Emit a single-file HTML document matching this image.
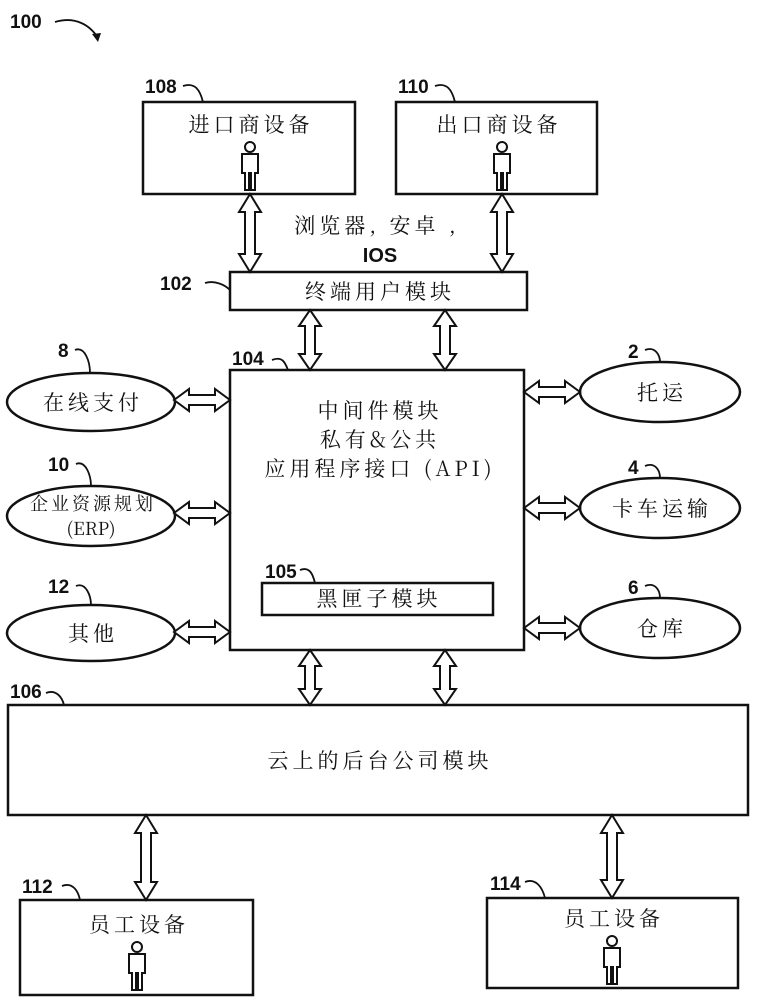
<!DOCTYPE html>
<html><head><meta charset="utf-8"><style>
html,body{margin:0;padding:0;background:#fff}
svg{display:block}
text{font-family:"Liberation Sans","Noto Sans CJK SC",sans-serif;fill:#111}
.n{font-weight:bold;font-size:19px}
.c{font-size:21px;font-family:"Noto Serif CJK SC","Noto Sans CJK SC",serif;letter-spacing:4px}
</style></head><body>
<svg width="758" height="1000" viewBox="0 0 758 1000" xmlns="http://www.w3.org/2000/svg">
<defs>
<g id="p" fill="#fff" stroke="#111" stroke-width="2">
<circle cx="0" cy="-19" r="5"/>
<path d="M-8,-12 H8 V7 H5 V24 H1 V7 H-1 V24 H-5 V7 H-8 Z"/>
</g>
</defs>
<g fill="none" stroke="#111" stroke-width="2.5">
<rect x="143" y="102" width="212" height="92"/>
<rect x="396" y="102" width="201" height="92"/>
<rect x="230" y="272" width="297" height="38"/>
<rect x="230" y="370" width="294" height="280"/>
<rect x="262" y="583" width="231" height="32"/>
<rect x="8" y="705" width="740" height="110"/>
<rect x="20" y="900" width="233" height="95"/>
<rect x="487" y="898" width="251" height="90"/>
<ellipse cx="91" cy="402" rx="84" ry="29"/>
<ellipse cx="91" cy="516" rx="84" ry="30"/>
<ellipse cx="91" cy="633" rx="84" ry="28"/>
<ellipse cx="660" cy="392" rx="80" ry="30"/>
<ellipse cx="660" cy="508" rx="80" ry="30"/>
<ellipse cx="660" cy="628" rx="80" ry="30"/>
</g>
<g fill="#fff" stroke="#111" stroke-width="2">
<polygon points="250,194 261,212 255,212 255,254 261,254 250,272 239,254 245,254 245,212 239,212"/>
<polygon points="502,194 513,212 507,212 507,254 513,254 502,272 491,254 497,254 497,212 491,212"/>
<polygon points="310,310 321,326 315,326 315,354 321,354 310,370 299,354 305,354 305,326 299,326"/>
<polygon points="445,310 456,326 450,326 450,354 456,354 445,370 434,354 440,354 440,326 434,326"/>
<polygon points="310,650 321,666 315,666 315,689 321,689 310,705 299,689 305,689 305,666 299,666"/>
<polygon points="445,650 456,666 450,666 450,689 456,689 445,705 434,689 440,689 440,666 434,666"/>
<polygon points="146,815 157,833 151,833 151,882 157,882 146,900 135,882 141,882 141,833 135,833"/>
<polygon points="612,815 623,833 617,833 617,880 623,880 612,898 601,880 607,880 607,833 601,833"/>
<polygon points="174,400 189,389 189,395 215,395 215,389 230,400 215,411 215,405 189,405 189,411"/>
<polygon points="174,513 189,502 189,508 215,508 215,502 230,513 215,524 215,518 189,518 189,524"/>
<polygon points="174,632 189,621 189,627 215,627 215,621 230,632 215,643 215,637 189,637 189,643"/>
<polygon points="524,392 539,381 539,387 565,387 565,381 580,392 565,403 565,397 539,397 539,403"/>
<polygon points="524,508 539,497 539,503 565,503 565,497 580,508 565,519 565,513 539,513 539,519"/>
<polygon points="524,628 539,617 539,623 565,623 565,617 580,628 565,639 565,633 539,633 539,639"/>
</g>
<use href="#p" x="250" y="166"/>
<use href="#p" x="502" y="166"/>
<use href="#p" x="137" y="966"/>
<use href="#p" x="612" y="960"/>
<g fill="none" stroke="#111" stroke-width="1.8">
<path d="M55,22 C75,16 90,25 98,38"/>
<path d="M183,86 C195,82 200,90 203,102"/>
<path d="M435,86 C447,82 452,90 455,102"/>
<path d="M205,283 C215,280 225,285 230,290"/>
<path d="M272,360 C282,356 285,362 288,370"/>
<path d="M75,350 C85,346 90,362 90,373"/>
<path d="M76,464 C86,460 91,476 91,486"/>
<path d="M76,586 C86,582 91,596 91,605"/>
<path d="M645,350 C655,346 660,355 660,362"/>
<path d="M645,466 C655,462 660,470 660,478"/>
<path d="M645,586 C655,582 660,590 660,598"/>
<path d="M300,570 C310,566 313,575 315,583"/>
<path d="M46,693 C56,689 62,697 64,705"/>
<path d="M62,886 C72,882 78,890 80,900"/>
<path d="M525,882 C535,878 542,886 545,898"/>
</g>
<polygon points="98,42 92,34 101,33" fill="#111"/>
<text class="n" x="10" y="28">100</text>
<text class="n" x="145" y="93">108</text>
<text class="n" x="398" y="93">110</text>
<text class="n" x="160" y="290">102</text>
<text class="n" x="232" y="365">104</text>
<text class="n" x="58" y="357">8</text>
<text class="n" x="48" y="471">10</text>
<text class="n" x="48" y="593">12</text>
<text class="n" x="628" y="358">2</text>
<text class="n" x="628" y="474">4</text>
<text class="n" x="628" y="594">6</text>
<text class="n" x="265" y="578">105</text>
<text class="n" x="10" y="698">106</text>
<text class="n" x="22" y="893">112</text>
<text class="n" x="490" y="890">114</text>
<g text-anchor="middle">
<text class="c" x="251" y="132">进口商设备</text>
<text class="c" x="499" y="132">出口商设备</text>
<text class="c" x="377" y="233">浏览器, 安卓 ,</text>
<text x="380" y="262" style="font-weight:bold;font-size:20px">IOS</text>
<text class="c" x="380" y="299">终端用户模块</text>
<text class="c" x="380" y="418">中间件模块</text>
<text class="c" x="380" y="447">私有&amp;公共</text>
<text class="c" x="380" y="476">应用程序接口 (API)</text>
<text class="c" x="379" y="606">黑匣子模块</text>
<text class="c" x="93" y="410">在线支付</text>
<text class="c" x="93" y="510" style="font-size:18px;letter-spacing:3px">企业资源规划</text>
<text class="c" x="91" y="535" style="font-size:18px;letter-spacing:0">(ERP)</text>
<text class="c" x="93" y="641">其他</text>
<text class="c" x="662" y="400">托运</text>
<text class="c" x="662" y="516">卡车运输</text>
<text class="c" x="662" y="636">仓库</text>
<text class="c" x="380" y="768">云上的后台公司模块</text>
<text class="c" x="139" y="932">员工设备</text>
<text class="c" x="614" y="926">员工设备</text>
</g>
</svg>
</body></html>
